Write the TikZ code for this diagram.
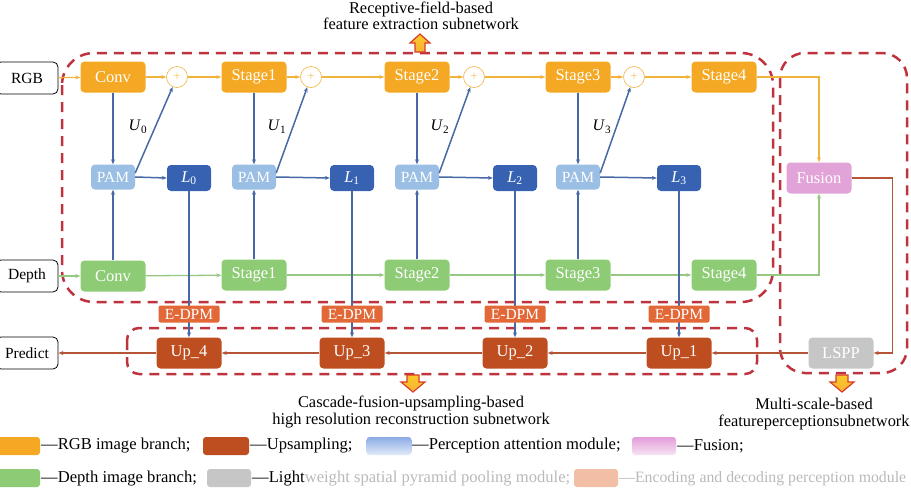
\documentclass[tikz,border=0pt]{standalone}
\usepackage{fontspec}
\setmainfont{Liberation Serif}
\usetikzlibrary{arrows.meta}
\definecolor{cOr}{RGB}{245,168,35}
\definecolor{cOrLine}{RGB}{240,180,60}
\definecolor{cGr}{RGB}{141,203,117}
\definecolor{cGrLine}{RGB}{150,200,130}
\definecolor{cPam}{RGB}{155,190,228}
\definecolor{cL}{RGB}{55,98,178}
\definecolor{cBlueLine}{RGB}{70,105,165}
\definecolor{cUp}{RGB}{190,78,32}
\definecolor{cBrLine}{RGB}{180,85,55}
\definecolor{cEd}{RGB}{226,104,56}
\definecolor{cFus}{RGB}{226,164,216}
\definecolor{cLspp}{RGB}{198,198,198}
\definecolor{cDash}{RGB}{190,52,62}
\definecolor{cArrF}{RGB}{248,178,55}
\definecolor{cArrD}{RGB}{215,62,40}
\definecolor{cFaint}{RGB}{185,185,185}
\definecolor{cSalmon}{RGB}{242,190,165}
\begin{document}
\begin{tikzpicture}[x=1pt,y=-1pt,
  box/.style={rectangle, rounded corners=4pt, minimum width=65pt, minimum height=31pt, inner sep=0pt, text=white, font=\fontsize{16.5}{16.5}\selectfont},
  obox/.style={box, fill=cOr},
  gbox/.style={box, fill=cGr},
  pambox/.style={box, fill=cPam, minimum width=44pt, minimum height=25pt, font=\fontsize{15.5}{15.5}\selectfont},
  lbox/.style={box, fill=cL, minimum width=44pt, minimum height=26pt},
  upbox/.style={box, fill=cUp},
  edbox/.style={box, fill=cEd, minimum width=61pt, minimum height=17pt, rounded corners=2pt, font=\fontsize{15.5}{15.5}\selectfont},
  inbox/.style={rectangle, rounded corners=5pt, draw=black, line width=0.8pt, minimum width=62pt, minimum height=32pt, inner sep=0pt, font=\fontsize{15.5}{15.5}\selectfont},
  plusnode/.style={circle, draw=cOrLine, line width=0.6pt, fill=white, minimum size=21pt, inner sep=0pt, text=cOrLine!80, font=\fontsize{13}{13}\selectfont},
  tip/.style={-{Stealth[length=5pt,width=4pt]}},
  oline/.style={tip, draw=cOrLine, line width=1.3pt},
  gline/.style={tip, draw=cGrLine, line width=1.3pt},
  bline/.style={tip, draw=cBlueLine, line width=1.5pt},
  brline/.style={tip, draw=cBrLine, line width=1.5pt},
  region/.style={draw=cDash, line width=2.5pt, dash pattern=on 10pt off 7pt},
  harrow/.style={draw=cArrD, line width=1.2pt, top color=cArrF!70!yellow, bottom color=cArrF},
  desc/.style={font=\fontsize{16.4}{16.4}\selectfont, align=center},
  lgd/.style={font=\fontsize{16.6}{16.6}\selectfont, anchor=west, inner sep=0pt},
  sw/.style={rectangle, rounded corners=3pt, minimum width=44pt, minimum height=18pt, inner sep=0pt}
]
\useasboundingbox (0,0) rectangle (911,490);

% dashed regions
\draw[region, rounded corners=32pt] (62,53) rectangle (773,302);
\draw[region, rounded corners=25pt] (780,53) rectangle (907,373);
\draw[region, rounded corners=12pt] (127,328) rectangle (757,374);

% inputs / output
\node[inbox] (rgb) at (27,78) {RGB};
\node[inbox] (depth) at (27,276) {Depth};
\node[inbox] (pred) at (27,353) {Predict};

% RGB branch
\node[obox] (c1) at (113,77) {Conv};
\node[plusnode] (p1) at (177,77) {+};
\node[obox] (s1) at (254,77) {Stage1};
\node[plusnode] (p2) at (311,77) {+};
\node[obox] (s2) at (417,77) {Stage2};
\node[plusnode] (p3) at (474,77) {+};
\node[obox] (s3) at (578,77) {Stage3};
\node[plusnode] (p4) at (634,77) {+};
\node[obox] (s4) at (724,77) {Stage4};

% Depth branch
\node[gbox] (c2) at (113,276) {Conv};
\node[gbox] (g1) at (254,275) {Stage1};
\node[gbox] (g2) at (417,275) {Stage2};
\node[gbox] (g3) at (578,275) {Stage3};
\node[gbox] (g4) at (724,275) {Stage4};

% PAM and L
\node[pambox] (pam0) at (113,177) {PAM};
\node[pambox] (pam1) at (254,177) {PAM};
\node[pambox] (pam2) at (417,177) {PAM};
\node[pambox] (pam3) at (578,177) {PAM};
\node[lbox] (l0) at (189,178) {\textit{L}\textsubscript{0}};
\node[lbox] (l1) at (352,178) {\textit{L}\textsubscript{1}};
\node[lbox] (l2) at (515,178) {\textit{L}\textsubscript{2}};
\node[lbox] (l3) at (679,178) {\textit{L}\textsubscript{3}};

% U labels
\node[font=\fontsize{16}{16}\selectfont] (u0) at (138,127) {\textit{U}\textsubscript{0}};
\node[font=\fontsize{16}{16}\selectfont] (u1) at (277,127) {\textit{U}\textsubscript{1}};
\node[font=\fontsize{16}{16}\selectfont] (u2) at (440,127) {\textit{U}\textsubscript{2}};
\node[font=\fontsize{16}{16}\selectfont] (u3) at (602,127) {\textit{U}\textsubscript{3}};

% Up and LSPP, Fusion
\node[upbox] (up4) at (189,353) {Up\_4};
\node[upbox] (up3) at (352,353) {Up\_3};
\node[upbox] (up2) at (515,353) {Up\_2};
\node[upbox] (up1) at (679,353) {Up\_1};
\node[box, fill=cLspp] (lspp) at (841,353) {LSPP};
\node[box, fill=cFus] (fus) at (819,178) {Fusion};

% orange connectors
\draw[oline] (rgb) -- (c1);
\draw[oline] (c1) -- (p1);
\draw[oline] (p1) -- (s1);
\draw[oline] (s1) -- (p2);
\draw[oline] (p2) -- (s2);
\draw[oline] (s2) -- (p3);
\draw[oline] (p3) -- (s3);
\draw[oline] (s3) -- (p4);
\draw[oline] (p4) -- (s4);
\draw[oline] (s4.east) -| (fus.north);

% green connectors
\draw[gline] (depth) -- (c2);
\draw[gline] (c2) -- (g1);
\draw[gline] (g1) -- (g2);
\draw[gline] (g2) -- (g3);
\draw[gline] (g3) -- (g4);
\draw[gline] (g4.east) -| (fus.south);

% blue connectors
\foreach \s/\g/\p/\l/\pl in {c1/c2/pam0/l0/p1, s1/g1/pam1/l1/p2, s2/g2/pam2/l2/p3, s3/g3/pam3/l3/p4}{
  \draw[bline] (\s.south) -- (\p.north);
  \draw[bline] (\g.north) -- (\p.south);
  \draw[bline] (\p.east) -- (\l.west);
  \draw[bline] ([yshift=4pt]\p.east) -- (\pl);
}
\draw[bline] (l0.south) -- (up4.north);
\draw[bline] (l1.south) -- (up3.north);
\draw[bline] (l2.south) -- (up2.north);
\draw[bline] (l3.south) -- (up1.north);

% E-DPM (over the lines)
\node[edbox] (e1) at (189,314) {E-DPM};
\node[edbox] (e2) at (352,314) {E-DPM};
\node[edbox] (e3) at (515,314) {E-DPM};
\node[edbox] (e4) at (679,314) {E-DPM};

% brown connectors
\draw[brline] (fus.east) -- ++(41,0) |- (lspp.east);
\draw[brline] (lspp) -- (up1);
\draw[brline] (up1) -- (up2);
\draw[brline] (up2) -- (up3);
\draw[brline] (up3) -- (up4);
\draw[brline] (up4) -- (pred);

% hollow block arrows
\draw[harrow, shift={(420,52)}] (-5,0) -- (-5,-9) -- (-10,-9) -- (0,-18) -- (10,-9) -- (5,-9) -- (5,0) -- cycle;
\draw[harrow, shift={(413,375)}] (-6,0) -- (-6,7) -- (-12,7) -- (0,17) -- (12,7) -- (6,7) -- (6,0) -- cycle;
\draw[harrow, shift={(842,375)}] (-6,0) -- (-6,7) -- (-12,7) -- (0,17) -- (12,7) -- (6,7) -- (6,0) -- cycle;

% descriptions
\node[desc] (t1) at (421,16) {Receptive-field-based\\[0pt]feature extraction subnetwork};
\node[desc] (t2) at (411,412) {Cascade-fusion-upsampling-based\\[0pt]high resolution reconstruction subnetwork};
\node[desc] (t3) at (814,414) {Multi-scale-based\\[0pt]featureperceptionsubnetwork};

% legend
\node[sw, fill=cOr] (k1) at (18,446) {};
\node[lgd] (k1t) at (41,446) {—RGB image branch;};
\node[sw, fill=cUp, minimum width=46pt] (k2) at (226,446) {};
\node[lgd] (k2t) at (250,446) {—Upsampling;};
\node[sw, top color=cPam!90!blue, bottom color=cPam!30, minimum width=45pt] (k3) at (389,446) {};
\node[lgd] (k3t) at (412,446) {—Perception attention module;};
\node[sw, top color=cFus!95!magenta, bottom color=cFus!30, minimum width=44pt] (k4) at (654,446) {};
\node[lgd] (k4t) at (677,446) {—Fusion;};

\node[sw, fill=cGr] (k5) at (18,478) {};
\node[lgd] (k5t) at (41,479) {—Depth image branch;};
\node[sw, fill=cLspp] (k6) at (229,478) {};
\node[lgd] (k6t) at (252,479) {—Light\textcolor{cFaint}{weight spatial pyramid pooling module;}};
\node[sw, fill=cSalmon, minimum width=44pt] (k7) at (596,478) {};
\node[lgd, text=cFaint, font=\fontsize{15.8}{15.8}\selectfont] (k7t) at (619,479) {—Encoding and decoding perception module};
\end{tikzpicture}
\end{document}
